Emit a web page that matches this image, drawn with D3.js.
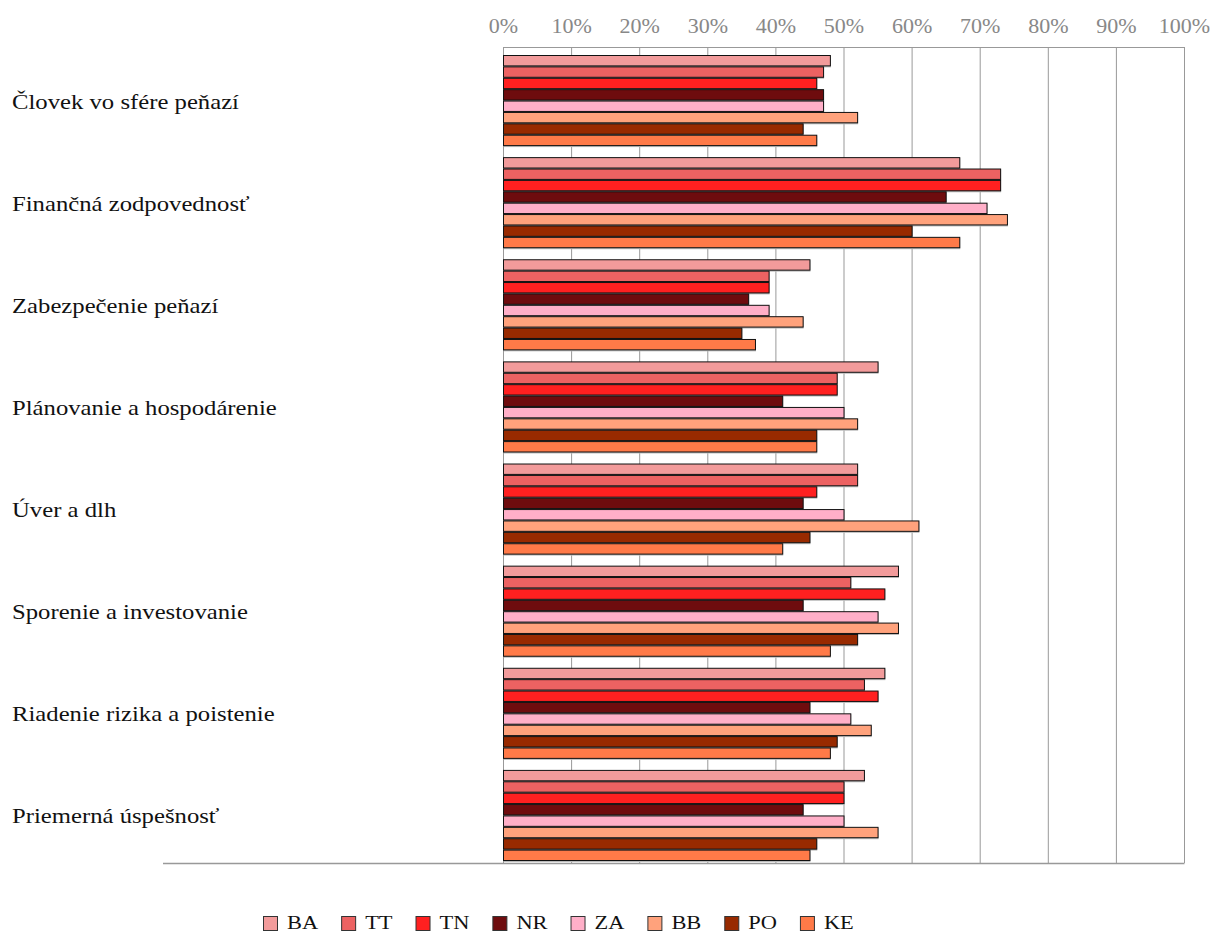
<!DOCTYPE html>
<html><head><meta charset="utf-8">
<script src="https://cdn.jsdelivr.net/npm/d3@7"></script>
<style>body{margin:0;background:#fff}svg{display:block}</style>
</head><body>
<svg id="c" width="1211" height="934"></svg>
<script>
const categories = ["Človek vo sfére peňazí","Finančná zodpovednosť","Zabezpečenie peňazí","Plánovanie a hospodárenie","Úver a dlh","Sporenie a investovanie","Riadenie rizika a poistenie","Priemerná úspešnosť"];
const seriesNames = ["BA","TT","TN","NR","ZA","BB","PO","KE"];
const seriesColors = ["#f29b9b","#ec6262","#ff2020","#6e0c0e","#ffafc8","#ffa27c","#982a00","#ff7a48"];
const BA = [48,67,45,55,52,58,56,53];
const TT = [47,73,39,49,52,51,53,50];
const TN = [46,73,39,49,46,56,55,50];
const NR = [47,65,36,41,44,44,45,44];
const ZA = [47,71,39,50,50,55,51,50];
const BB = [52,74,44,52,61,58,54,55];
const PO = [44,60,35,46,45,52,49,46];
const KE = [46,67,37,46,41,48,48,45];
const seriesValues = [BA,TT,TN,NR,ZA,BB,PO,KE];
const tickValues = [0,10,20,30,40,50,60,70,80,90,100];

(function(){
const svg = d3.select("#c");
const font = "'Liberation Serif','DejaVu Serif',serif";
const pl = 503, pr = 1184, pt = 47, pb = 863;
const x = d3.scaleLinear().domain([0,100]).range([pl,pr]);
const y0 = d3.scaleBand().domain(categories).range([55, 861]).paddingInner(0.108);
const y1 = d3.scaleBand().domain(seriesNames).range([0, y0.bandwidth()]);

// grid
svg.append("g").selectAll("line").data(tickValues).join("line")
  .attr("x1", d=>x(d)+0.5).attr("x2", d=>x(d)+0.5)
  .attr("y1", pt).attr("y2", pb)
  .attr("stroke", "#999").attr("stroke-width", 1);
svg.append("line").attr("x1", pl).attr("x2", pr).attr("y1", pt+0.5).attr("y2", pt+0.5)
  .attr("stroke","#999");
svg.append("line").attr("x1", 163).attr("x2", pr+0.5).attr("y1", pb+0.5).attr("y2", pb+0.5)
  .attr("stroke","#999").attr("stroke-width",1.5);

// top axis
const ax = d3.axisTop(x).tickValues(tickValues).tickFormat(d=>d+"%").tickSize(0).tickPadding(0);
const axg = svg.append("g").attr("transform", `translate(0,33)`).call(ax);
axg.select(".domain").remove();
axg.selectAll("text").attr("fill","#888").attr("font-family",font).attr("font-size",20)
  .attr("dy", 0).attr("y", 0).attr("transform","scale(1.1,1)");

// bars
const groups = svg.append("g").selectAll("g").data(categories).join("g")
  .attr("transform", d=>`translate(0,${y0(d)})`);
groups.each(function(cat, ci){
  const g = d3.select(this);
  const rows = seriesNames.map((s,si)=>({s, v: seriesValues[si][ci], c: seriesColors[si]}));
  g.selectAll("rect.sh").data(rows).join("rect").attr("class","sh")
    .attr("x", x(0)+1).attr("y", d=>y1(d.s)+1)
    .attr("width", d=>x(d.v)-x(0)).attr("height", y1.bandwidth())
    .attr("fill","#bbb");
  g.selectAll("rect.b").data(rows).join("rect").attr("class","b")
    .attr("x", x(0)+0.5).attr("y", d=>y1(d.s)+0.5)
    .attr("width", d=>x(d.v)-x(0)).attr("height", y1.bandwidth()-1)
    .attr("fill", d=>d.c).attr("stroke","#111").attr("stroke-width",1);
});

// category labels
svg.append("g").selectAll("text").data(categories).join("text")
  .attr("transform", d=>`translate(12,${y0(d)+y0.bandwidth()/2+8}) scale(1.235,1)`)
  .attr("font-family", font).attr("font-size", 20).attr("fill","#111")
  .text(d=>d);

// legend
const leg = svg.append("g");
let lx = 263;
seriesNames.forEach((s,i)=>{
  leg.append("rect").attr("x", lx+0.5).attr("y", 916.5).attr("width",14).attr("height",14)
    .attr("fill", seriesColors[i]).attr("stroke","#333");
  const t = leg.append("text").attr("transform", `translate(${lx+24},929) scale(1.18,1)`)
    .attr("font-family", font).attr("font-size", 19).attr("fill","#111").text(s);
  const w = t.node().getComputedTextLength()*1.18;
  lx = lx + 24 + w + 23;
});
})();
</script>
</body></html>
